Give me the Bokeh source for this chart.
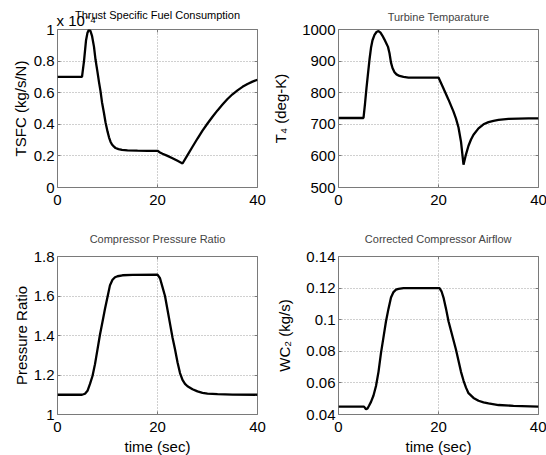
from bokeh.plotting import figure
from bokeh.layouts import gridplot
from bokeh.models import Range1d, FixedTicker, CustomJSTickFormatter, Title, LinearAxis
from bokeh.embed import file_html
from bokeh.resources import INLINE

# ---------------- data ----------------
time_ticks = [0, 20, 40]

# Thrust specific fuel consumption (x 1e-4 kg/s/N)
tsfc_t = [0, 4.9, 5.3, 5.7, 6.0, 6.3, 6.6, 6.9, 7.3, 7.6, 8.0, 8.3, 8.6, 8.9, 9.3, 9.6,
          10.0, 10.3, 10.6, 10.9, 11.3, 11.6, 12.2, 12.9, 14.0, 16.0, 18.0, 20.0, 20.5,
          21.0, 22.0, 23.0, 24.0, 25.0, 26.0, 27.0, 28.0, 29.0, 30.0, 31.0, 32.0, 33.0,
          34.0, 35.0, 36.0, 37.0, 38.0, 39.0, 40.0]
tsfc_v = [0.70, 0.70, 0.80, 0.93, 0.98, 1.0, 0.99, 0.96, 0.89, 0.81, 0.73, 0.667, 0.61,
          0.54, 0.47, 0.413, 0.355, 0.318, 0.29, 0.272, 0.258, 0.25, 0.243, 0.238, 0.235,
          0.233, 0.232, 0.232, 0.222, 0.214, 0.200, 0.185, 0.169, 0.152, 0.205, 0.258,
          0.31, 0.36, 0.405, 0.448, 0.488, 0.525, 0.56, 0.59, 0.615, 0.637, 0.655, 0.67,
          0.682]
tsfc_ticks = [0, 0.2, 0.4, 0.6, 0.8, 1.0]
tsfc_exponent = "x 10\u207b\u2074"

# Turbine temperature (deg-K)
t4_t = [0, 5.0, 5.3, 5.6, 5.9, 6.2, 6.5, 6.8, 7.2, 7.6, 8.0, 8.4, 8.8, 9.2, 9.6, 9.9,
        10.2, 10.5, 10.8, 11.2, 11.6, 12.2, 13.0, 14.0, 16.0, 18.0, 20.0, 21.0, 22.0,
        23.0, 23.5, 24.0, 24.5, 25.0, 25.5, 26.0, 26.5, 27.0, 28.0, 29.0, 30.0, 31.0,
        32.0, 34.0, 36.0, 38.0, 40.0]
t4_v = [720, 720, 765, 815, 860, 905, 942, 966, 983, 992, 995, 990, 980, 968, 955, 945,
        925, 895, 878, 865, 858, 853, 850, 848, 848, 848, 848, 813, 778, 740, 718, 690,
        645, 572, 605, 632, 652, 667, 687, 700, 707, 711, 714, 717, 718, 719, 719]
t4_ticks = [500, 600, 700, 800, 900, 1000]

# Compressor pressure ratio
pr_t = [0, 4.9, 5.5, 6.0, 6.5, 7.0, 7.5, 8.0, 8.5, 9.0, 9.5, 10.0, 10.5, 11.0, 11.5,
        12.0, 13.0, 15.0, 20.0, 20.5, 21.0, 21.5, 22.0, 22.5, 23.0, 23.5, 24.0, 24.5,
        25.0, 25.5, 26.0, 27.0, 28.0, 29.0, 30.0, 32.0, 35.0, 40.0]
pr_v = [1.10, 1.10, 1.105, 1.12, 1.155, 1.195, 1.255, 1.33, 1.405, 1.47, 1.535, 1.595,
        1.655, 1.682, 1.695, 1.70, 1.705, 1.707, 1.708, 1.69, 1.645, 1.60, 1.53, 1.46,
        1.39, 1.33, 1.265, 1.21, 1.175, 1.155, 1.143, 1.128, 1.117, 1.11, 1.106, 1.103,
        1.101, 1.10]
pr_ticks = [1.0, 1.2, 1.4, 1.6, 1.8]

# Corrected compressor airflow (kg/s)
wc_t = [0, 5.1, 5.3, 5.5, 5.8, 6.1, 6.5, 7.0, 7.5, 8.0, 8.5, 9.0, 9.5, 10.0, 10.5, 11.0,
        11.5, 12.0, 13.0, 20.2, 20.6, 21.0, 21.5, 22.0, 22.5, 23.0, 23.5, 24.0, 24.5,
        25.0, 25.5, 26.0, 27.0, 28.0, 29.0, 30.0, 32.0, 35.0, 40.0]
wc_v = [0.045, 0.045, 0.0442, 0.0433, 0.0438, 0.0455, 0.048, 0.052, 0.058, 0.067, 0.079,
        0.089, 0.099, 0.107, 0.114, 0.1175, 0.119, 0.1195, 0.12, 0.12, 0.118, 0.114,
        0.107, 0.099, 0.093, 0.087, 0.081, 0.074, 0.067, 0.0615, 0.057, 0.0535, 0.0505,
        0.0487, 0.0477, 0.047, 0.046, 0.0455, 0.045]
wc_ticks = [0.04, 0.06, 0.08, 0.10, 0.12, 0.14]

FONT = "Liberation Sans"
BOX = "#7a7a7a"
fmt_code = "return parseFloat(tick.toFixed(4)).toString();"


def box_axis(ticks):
    # tick marks only (no labels drawn) on the opposite sides of the box
    return LinearAxis(ticker=FixedTicker(ticks=ticks), major_label_text_color=None,
                      major_label_text_font_size="1px", major_label_standoff=0,
                      major_tick_in=3, major_tick_out=0, major_tick_line_color=BOX,
                      minor_tick_line_color=None, axis_line_color=None)


def make(title, t, v, yr, yticks, ylabel, xlabel, bl, br, bt, bb, ylab_standoff, title_standoff):
    p = figure(frame_width=200, frame_height=158, x_range=Range1d(0, 40),
               y_range=Range1d(yr[0], yr[1]), output_backend="svg", toolbar_location=None,
               min_border_left=bl, min_border_right=br, min_border_top=bt,
               min_border_bottom=bb, title=title)
    p.title.text_font = FONT
    p.title.text_font_size = "11px"
    p.title.text_font_style = "normal"
    p.title.align = "center"
    p.title.standoff = title_standoff
    p.outline_line_color = BOX
    p.outline_line_width = 1
    p.xaxis.ticker = FixedTicker(ticks=time_ticks)
    p.yaxis.ticker = FixedTicker(ticks=yticks)
    p.xaxis.formatter = CustomJSTickFormatter(code=fmt_code)
    p.yaxis.formatter = CustomJSTickFormatter(code=fmt_code)
    for ax in (p.xaxis[0], p.yaxis[0]):
        ax.major_label_text_font = FONT
        ax.major_label_text_font_size = "15px"
        ax.major_label_text_color = "black"
        ax.axis_line_color = None
        ax.major_tick_in = 3
        ax.major_tick_out = 0
        ax.major_tick_line_color = BOX
        ax.minor_tick_line_color = None
        ax.axis_label_text_font = FONT
        ax.axis_label_text_font_size = "15px"
        ax.axis_label_text_font_style = "normal"
        ax.axis_label_text_color = "black"
    p.xaxis.major_label_standoff = 7
    p.yaxis.major_label_standoff = 3
    p.yaxis.axis_label = ylabel
    p.yaxis.axis_label_standoff = ylab_standoff
    if xlabel:
        p.xaxis.axis_label = xlabel
        p.xaxis.axis_label_standoff = 3
    p.add_layout(box_axis(yticks), "right")
    p.add_layout(box_axis(time_ticks), "above")
    for g in (p.xgrid[0], p.ygrid[0]):
        g.grid_line_color = "#a0a0a0"
        g.grid_line_dash = "1 2"
        g.grid_line_width = 1
    p.line(t, v, line_color="black", line_width=2.3)
    return p


p1 = make("", tsfc_t, tsfc_v, (0, 1), tsfc_ticks,
          "TSFC (kg/s/N)", None, 57, 12, 29, 30, 2, 0)
p2 = make("Turbine Temparature", t4_t, t4_v, (500, 1000), t4_ticks,
          "T\u2084 (deg-K)", None, 67, 10, 29, 30, 10, 13)
p3 = make("Compressor Pressure Ratio", pr_t, pr_v, (1, 1.8), pr_ticks,
          "Pressure Ratio", "time (sec)", 57, 12, 39, 41, 1, 23)
p4 = make("Corrected Compressor Airflow", wc_t, wc_v, (0.04, 0.14), wc_ticks,
          "WC\u2082 (kg/s)", "time (sec)", 67, 10, 39, 41, 10, 23)

# exponent marker (next to the frame) and the title of the TSFC panel, overlapping
p1.add_layout(Title(text=tsfc_exponent, align="left", offset=-1, standoff=2,
                    text_font=FONT, text_font_size="15px", text_font_style="normal",
                    text_color="black"), "above")
p1.add_layout(Title(text="Thrust Specific Fuel Consumption", align="center", standoff=-25,
                    text_font=FONT, text_font_size="11px", text_font_style="normal",
                    text_color="black"), "above")

grid = gridplot([[p1, p2], [p3, p4]], toolbar_location=None)
open("out.html", "w").write(file_html(grid, INLINE))
